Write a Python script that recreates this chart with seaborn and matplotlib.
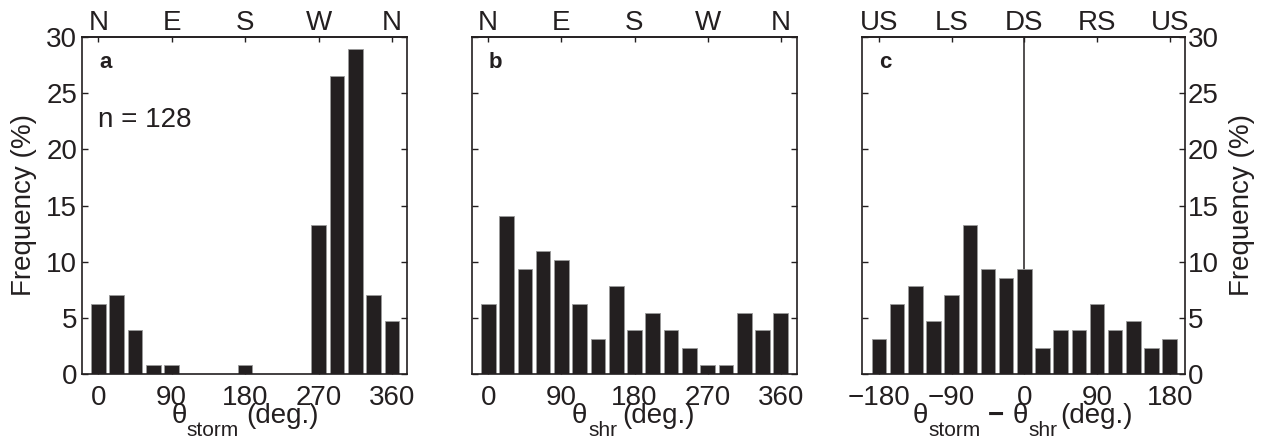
import numpy as np
import pandas as pd
import matplotlib
matplotlib.use("Agg")
import matplotlib.pyplot as plt
import seaborn as sns

# ---- data (percent of n = 128) ----
storm_dir = [0, 22.5, 45, 67.5, 90, 112.5, 135, 157.5, 180, 202.5, 225, 247.5,
             270, 292.5, 315, 337.5, 360]
storm_freq = [6.25, 7.03, 3.91, 0.78, 0.78, 0, 0, 0, 0.78, 0, 0, 0,
              13.28, 26.56, 28.91, 7.03, 4.69]

shr_dir = storm_dir
shr_freq = [6.25, 14.06, 9.38, 10.94, 10.16, 6.25, 3.13, 7.81, 3.91, 5.47, 3.91,
            2.34, 0.78, 0.78, 5.47, 3.91, 5.47]

diff_dir = [-180, -157.5, -135, -112.5, -90, -67.5, -45, -22.5, 0, 22.5, 45,
            67.5, 90, 112.5, 135, 157.5, 180]
diff_freq = [3.13, 6.25, 7.81, 4.69, 7.03, 13.28, 9.38, 8.59, 9.38, 2.34, 3.91,
             3.91, 6.25, 3.91, 4.69, 2.34, 3.13]

compass_ticks = [0, 90, 180, 270, 360]
compass_labels = ["N", "E", "S", "W", "N"]
rel_ticks = [-180, -90, 0, 90, 180]
rel_labels = ["US", "LS", "DS", "RS", "US"]
yticks = [0, 5, 10, 15, 20, 25, 30]

sns.set_theme(style="white")
plt.rcParams["font.family"] = ["Liberation Sans", "DejaVu Sans"]

INK = "#231f20"
FS = 20
SUB = 15

fig = plt.figure(figsize=(12.65, 4.41), dpi=100)
H = 441.0
W = 1265.0
bottom = 1 - 374 / H
height = (374 - 37) / H
ax_a = fig.add_axes([82 / W, bottom, 325 / W, height])
ax_b = fig.add_axes([472 / W, bottom, 325 / W, height])
ax_c = fig.add_axes([862 / W, bottom, 323 / W, height])


def ptext(x, y, s, size=FS, **kw):
    """Place text by pixel position (left, baseline) in the figure."""
    fig.text(x / W, 1 - y / H, s, fontsize=size, color=INK, ha="left",
             va="baseline", **kw)


panels = [
    (ax_a, storm_dir, storm_freq, (-20, 378.5), compass_ticks, compass_labels, "a"),
    (ax_b, shr_dir, shr_freq, (-20, 380), compass_ticks, compass_labels, "b"),
    (ax_c, diff_dir, diff_freq, (-201, 199), rel_ticks, rel_labels, "c"),
]

for ax, xs, ys, xlim, tks, tlabels, letter in panels:
    df = pd.DataFrame({"x": xs, "y": ys})
    sns.barplot(data=df, x="x", y="y", native_scale=True, width=0.8,
                color=INK, saturation=1, edgecolor="#9a9a9a", linewidth=0.6,
                ax=ax)
    ax.set_xlim(*xlim)
    ax.set_ylim(0, 30)
    ax.set_xticks(tks)
    ax.set_xticklabels([str(t).replace("-", "\u2212") for t in tks])
    ax.set_yticks(yticks)
    ax.tick_params(axis="both", direction="in", length=4.5, width=1.0,
                   labelsize=FS, colors=INK, labelcolor=INK,
                   top=False, right=True, left=True, bottom=True)
    ax.tick_params(axis="x", pad=8)
    ax.tick_params(axis="y", pad=3.5)
    ax.set_xlabel("")
    ax.set_ylabel("")
    for s in ax.spines.values():
        s.set_visible(True)
        s.set_color(INK)
        s.set_linewidth(1.2)
    sec = ax.secondary_xaxis("top")
    sec.set_xticks(tks)
    sec.set_xticklabels(tlabels)
    sec.tick_params(direction="in", length=3.5, width=1.0, labelsize=FS,
                    colors=INK, labelcolor=INK, pad=0.5)
    for s in sec.spines.values():
        s.set_color(INK)
        s.set_linewidth(1.2)
    ax.text(0.052, 0.908, letter, transform=ax.transAxes, fontsize=16,
            fontweight="bold", color=INK, va="baseline", ha="left")

ax_a.text(0.05, 0.733, "n = 128", transform=ax_a.transAxes, fontsize=FS,
          color=INK, va="baseline", ha="left")

ax_b.tick_params(axis="y", labelleft=False)

ax_c.tick_params(axis="y", labelleft=False, labelright=True, pad=2)
ax_c.axvline(0, color=INK, linewidth=1.1, zorder=0.5)

# y labels
fig.text(24 / W, 1 - 205.5 / H, "Frequency (%)", rotation=90, fontsize=FS,
         color=INK, ha="center", va="center")
fig.text(1242 / W, 1 - 205.5 / H, "Frequency (%)", rotation=90, fontsize=FS,
         color=INK, ha="center", va="center")

# x labels (theta with subscripts)
BL = 423
SBL = 436.5
ptext(172, BL, "\u03b8")
ptext(186, SBL, "storm", SUB)
ptext(246, BL, "(deg.)")

ptext(572, BL, "\u03b8")
ptext(588, SBL, "shr", SUB)
ptext(622, BL, "(deg.)")

ptext(913, BL, "\u03b8")
ptext(928, SBL, "storm", SUB)
ptext(988, BL, "\u2212", fontweight="bold")
ptext(1013, BL, "\u03b8")
ptext(1028, SBL, "shr", SUB)
ptext(1060, BL, "(deg.)")

fig.savefig("out.png", dpi=100)
